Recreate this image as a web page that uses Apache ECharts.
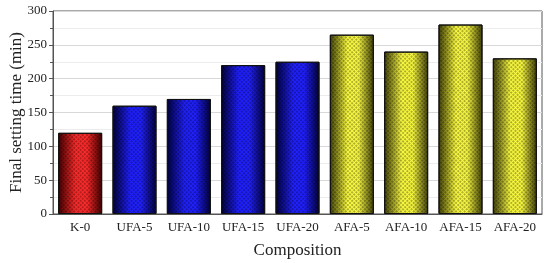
<!DOCTYPE html>
<html>
<head>
    <meta charset="utf-8" />
    <title>Final setting time</title>
    <script src="https://cdn.jsdelivr.net/npm/echarts@6/dist/echarts.min.js"></script>
</head>
<body style="margin:0">
    <div id="main" style="width: 550px;height:263px;"></div>
    <script type="text/javascript">
        // data
        let categories = ['K-0', 'UFA-5', 'UFA-10', 'UFA-15', 'UFA-20', 'AFA-5', 'AFA-10', 'AFA-15', 'AFA-20'];
        let settingTime = [120, 160, 170, 220, 225, 265, 240, 280, 230];

        // colour per group, picked by the name prefix
        function barColor(name) {
            let mid, edge;
            if (name.indexOf('K') === 0) { mid = '#ff2a2a'; edge = '#400000'; }
            else if (name.indexOf('UFA') === 0) { mid = '#2020ff'; edge = '#00003a'; }
            else { mid = '#fafa40'; edge = '#40400a'; }
            return new echarts.graphic.LinearGradient(0, 0, 1, 0, [
                { offset: 0, color: edge },
                { offset: 0.4, color: mid },
                { offset: 0.65, color: mid },
                { offset: 1, color: edge }
            ]);
        }

        let myChart = echarts.init(document.getElementById('main'));
        let font = 'Liberation Serif';

        let option = {
            animation: false,
            grid: {
                left: 53, right: 8, top: 11, bottom: 49,
                outerBoundsMode: 'none',
                show: true, borderColor: '#555', borderWidth: 1
            },
            xAxis: {
                type: 'category',
                data: categories,
                name: 'Composition',
                nameLocation: 'middle',
                nameGap: 28,
                nameTextStyle: { fontFamily: font, fontSize: 17, color: '#222' },
                axisLine: { lineStyle: { color: '#555' } },
                axisTick: { alignWithLabel: true, length: 4, lineStyle: { color: '#555' } },
                axisLabel: { interval: 0, fontFamily: font, fontSize: 13, color: '#222', margin: 7 }
            },
            yAxis: {
                type: 'value',
                min: 0, max: 300, interval: 50,
                name: 'Final setting time (min)',
                nameLocation: 'middle',
                nameGap: 28,
                nameMoveOverlap: false,
                nameTextStyle: { fontFamily: font, fontSize: 17, color: '#222' },
                axisLine: { show: true, lineStyle: { color: '#555' } },
                axisTick: { show: true, length: 4, lineStyle: { color: '#555' } },
                minorTick: { show: true, splitNumber: 2, length: 3, lineStyle: { color: '#555' } },
                splitLine: { lineStyle: { color: '#d8d8d8' } },
                minorSplitLine: { show: true, lineStyle: { color: '#ececec' } },
                axisLabel: { fontFamily: font, fontSize: 13, color: '#222', margin: 6 }
            },
            series: [{
                type: 'bar',
                barWidth: '81%',
                data: settingTime.map((v, i) => ({
                    value: v,
                    itemStyle: {
                        color: barColor(categories[i]),
                        borderColor: '#111',
                        borderWidth: 1,
                        decal: {
                            symbol: 'rect',
                            symbolSize: 1,
                            dashArrayX: [2, 1],
                            dashArrayY: [2, 1],
                            rotation: Math.PI / 4,
                            color: 'rgba(0,0,0,0.3)'
                        }
                    }
                }))
            }]
        };

        myChart.setOption(option);
    </script>
</body>
</html>
